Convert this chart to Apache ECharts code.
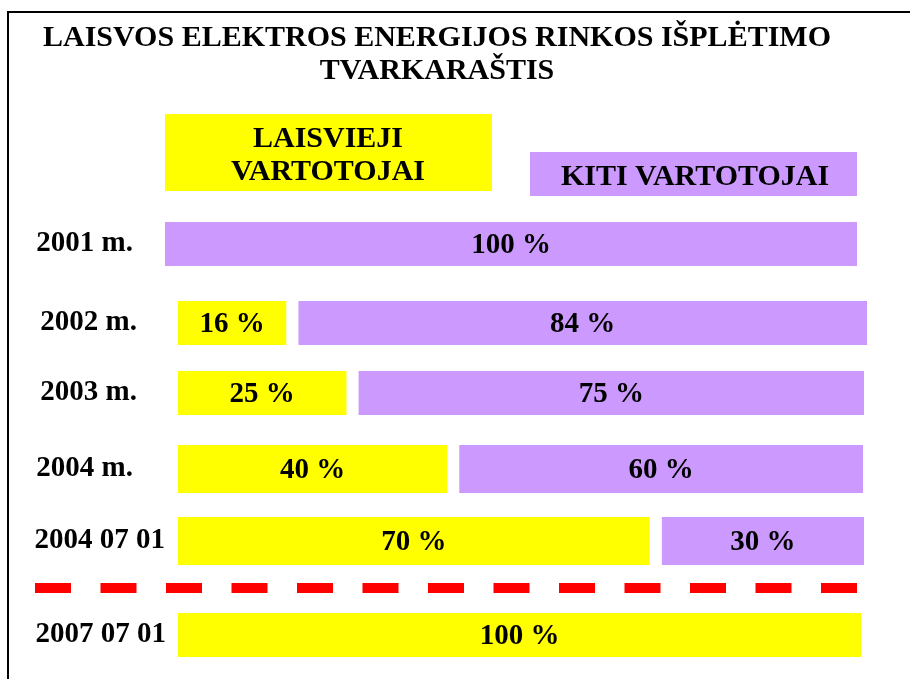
<!DOCTYPE html>
<html>
<head>
<meta charset="utf-8">
<script src="https://cdn.jsdelivr.net/npm/echarts@6/dist/echarts.min.js"></script>
<style>html,body{margin:0;padding:0;background:#fff}#c{width:910px;height:679px}</style>
</head>
<body>
<div id="c"></div>
<script>
// ---- data ----
const categories = ['2001 m.', '2002 m.', '2003 m.', '2004 m.', '2004 07 01', '2007 07 01'];
const laisvieji = [0, 16, 25, 40, 70, 100];   // LAISVIEJI VARTOTOJAI, %
const kiti = [100, 84, 75, 60, 30, 0];        // KITI VARTOTOJAI, %
const seriesNames = ['LAISVIEJI VARTOTOJAI', 'KITI VARTOTOJAI'];
const titleText = 'LAISVOS ELEKTROS ENERGIJOS RINKOS IŠPLĖTIMO\nTVARKARAŠTIS';

// ---- layout / style ----
const FONT = "'Liberation Serif','Times New Roman',serif";
const YELLOW = '#ffff00', PURPLE = '#cc99ff';
const GAP = 1.8; // white space between the two parts, in axis units
const rowLayout = [
  {left: 165, right: 53, center: 244, h: 44, margin: 32},
  {left: 178, right: 43, center: 323, h: 44, margin: 41},
  {left: 178, right: 46, center: 393, h: 44, margin: 41},
  {left: 178, right: 47, center: 469, h: 48, margin: 45},
  {left: 178, right: 46, center: 541, h: 48, margin: 13},
  {left: 178, right: 49, center: 635, h: 44, margin: 12}
];

const grids = [], xAxes = [], yAxes = [], series = [];
const lbl = {show: true, position: 'inside', offset: [0, 2], color: '#000', fontFamily: FONT, fontWeight: 'bold', fontSize: 29,
  formatter: p => p.value > 0 ? p.value + ' %' : ''};
categories.forEach((cat, i) => {
  const L = rowLayout[i];
  const g = (laisvieji[i] > 0 && kiti[i] > 0) ? GAP : 0;
  grids.push({left: L.left, right: L.right, top: L.center - L.h / 2, height: L.h});
  xAxes.push({type: 'value', gridIndex: i, min: 0, max: laisvieji[i] + kiti[i] + g, show: false});
  yAxes.push({type: 'category', gridIndex: i, data: [cat],
    axisLine: {show: false}, axisTick: {show: false}, splitLine: {show: false},
    axisLabel: {margin: L.margin, padding: [0, 0, 6, 0], color: '#000', fontFamily: FONT, fontWeight: 'bold', fontSize: 29}});
  series.push({name: seriesNames[0], type: 'bar', stack: 's' + i, xAxisIndex: i, yAxisIndex: i,
    barWidth: L.h, data: [laisvieji[i]], itemStyle: {color: YELLOW}, label: lbl, silent: true});
  series.push({name: 'gap', type: 'bar', stack: 's' + i, xAxisIndex: i, yAxisIndex: i,
    barWidth: L.h, data: [g], itemStyle: {color: 'rgba(0,0,0,0)'}, silent: true});
  series.push({name: seriesNames[1], type: 'bar', stack: 's' + i, xAxisIndex: i, yAxisIndex: i,
    barWidth: L.h, data: [kiti[i]], itemStyle: {color: PURPLE}, label: lbl, silent: true});
});

const chart = echarts.init(document.getElementById('c'), null, {renderer: 'canvas'});
chart.setOption({
  animation: false,
  backgroundColor: '#fff',
  title: {text: titleText, left: 437, top: 22, padding: 0, textAlign: 'center',
    textStyle: {fontFamily: FONT, fontWeight: 'bold', fontSize: 30, color: '#000', lineHeight: 33}},
  grid: grids, xAxis: xAxes, yAxis: yAxes, series: series,
  graphic: [
    {type: 'polyline', shape: {points: [[8, 679], [8, 12], [910, 12]]}, style: {stroke: '#000', lineWidth: 2, fill: null}},
    {type: 'rect', shape: {x: 165, y: 114, width: 327, height: 77}, style: {fill: YELLOW}},
    {type: 'text', x: 328, y: 156, style: {text: 'LAISVIEJI\nVARTOTOJAI', align: 'center', verticalAlign: 'middle',
      font: 'bold 30px ' + FONT, fill: '#000', lineHeight: 33}},
    {type: 'rect', shape: {x: 530, y: 152, width: 327, height: 44}, style: {fill: PURPLE}},
    {type: 'text', x: 695, y: 177, style: {text: seriesNames[1], align: 'center', verticalAlign: 'middle',
      font: 'bold 30px ' + FONT, fill: '#000'}},
    {type: 'line', shape: {x1: 35, y1: 588, x2: 857, y2: 588},
      style: {stroke: '#ff0000', lineWidth: 10, lineDash: [36, 29.5]}}
  ]
});
</script>
</body>
</html>
